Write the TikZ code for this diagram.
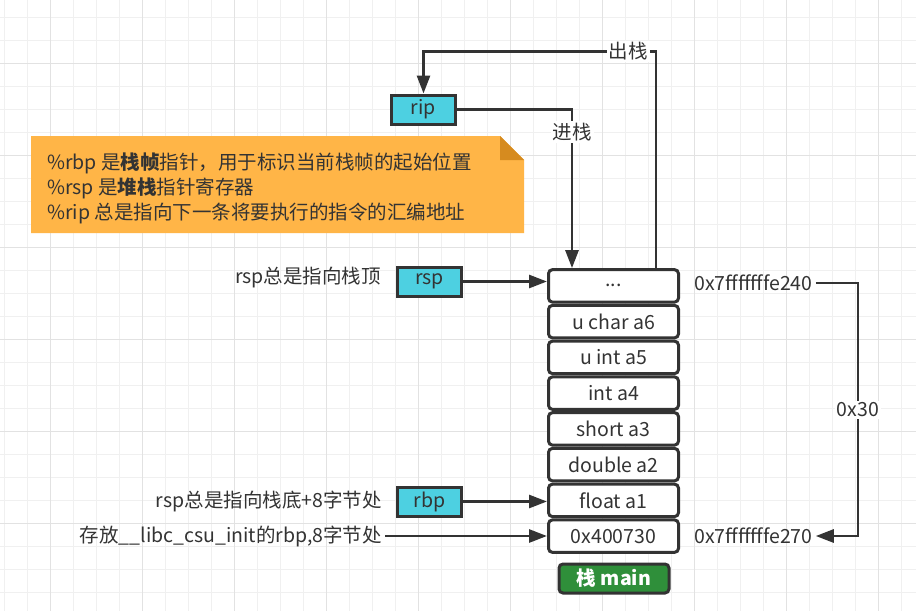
\documentclass[tikz,border=0pt]{standalone}
\usepackage{fontspec}
\setmainfont{Noto Sans CJK SC}
\usepackage{xcolor}
\usetikzlibrary{calc,arrows.meta,positioning}
\definecolor{inkc}{HTML}{333333}
\definecolor{gridc}{HTML}{F0F0F0}
\definecolor{gridm}{HTML}{E2E2E2}
\definecolor{regc}{HTML}{4DD0E1}
\definecolor{notec}{HTML}{FFB547}
\definecolor{foldc}{HTML}{D68B1F}
\definecolor{mainc}{HTML}{2F8F3A}
\newcommand{\tdots}{...}
\tikzset{
  ar/.style={-{Triangle[length=18pt,width=13pt]},line width=2.8pt,inkc},
  ln/.style={line width=2.8pt,inkc},
  cell/.style={draw=inkc,line width=3pt,rounded corners=4pt,fill=white,minimum width=130pt,minimum height=32.5pt,text=inkc},
  reg/.style={draw=inkc,line width=3pt,fill=regc,minimum width=64pt,minimum height=29pt,text=inkc},
  lbl/.style={text=inkc,inner sep=3pt},
  tag/.style={text=inkc,fill=white,inner sep=2pt}
}
\begin{document}
\begin{tikzpicture}[x=1pt,y=-1pt,font=\fontsize{19.5}{25}\selectfont]
\useasboundingbox (0,0) rectangle (916,611);
\fill[white] (0,0) rectangle (916,611);
% grid
\foreach \i in {0,...,39} \draw[gridc,line width=0.8pt] ({4.3+23*\i},0) -- ({4.3+23*\i},611);
\foreach \j in {0,...,26} \draw[gridc,line width=0.8pt] (0,{17.3+23*\j}) -- (916,{17.3+23*\j});
\foreach \i in {0,...,9} \draw[gridm,line width=0.8pt] ({50.3+92*\i},0) -- ({50.3+92*\i},611);
\foreach \j in {0,...,5} \draw[gridm,line width=0.8pt] (0,{63.3+92*\j}) -- (916,{63.3+92*\j});

% note
\fill[notec] (31,136) -- (500,136) -- (524,160) -- (524,233) -- (31,233) -- cycle;
\fill[foldc] (500,136) -- (500,160) -- (524,160) -- cycle;
\node[lbl,anchor=west,align=left] (note) at (44,188)
  {\%rbp 是\textbf{栈帧}指针，用于标识当前栈帧的起始位置\\
   \%rsp 是\textbf{堆栈}指针寄存器\\
   \%rip 总是指向下一条将要执行的指令的汇编地址};

% stack
\foreach \t [count=\i from 0] in {\tdots,u char a6,u int a5,int a4,short a3,double a2,float a1,0x400730}
  \node[cell] (s\i) at (613.5,{268+35.75*(\i+0.5)}) {\t};
\node[draw=inkc,line width=3pt,rounded corners=4pt,fill=mainc,text=white,minimum width=110pt,minimum height=29pt,font=\fontsize{19.5}{25}\selectfont\bfseries] (main) at (614,578.5) {栈 main};

% registers
\node[reg] (rip) at (423.5,109.5) {rip};
\node[reg] (rsp) at (429.5,281.5) {rsp};
\node[reg] (rbp) at (429.5,501.5) {rbp};

\node[lbl,anchor=east] (rsptxt) at (384,278) {rsp总是指向栈顶};
\node[lbl,anchor=east] (rbptxt) at (385,501) {rsp总是指向栈底+8字节处};
\node[lbl,anchor=east] (libc) at (385,536) {存放\_\_libc\_csu\_init的rbp,8字节处};

\node[lbl,anchor=west] (atop) at (691,283) {0x7fffffffe240};
\node[lbl,anchor=west] (abot) at (691,536) {0x7fffffffe270};
\node[tag] (off) at (858,410) {0x30};

% arrows
\draw[ar] (rip.east) -| node[tag,pos=0.57] (push) {进栈} ([xshift=-41.5pt]s0.north);
\draw[ar] ([xshift=42.5pt]s0.north) |- node[tag,pos=0.56] (pop) {出栈} ([yshift=42pt]rip.north) -- (rip.north);
\draw[ar] (rsp.east) -- (rsp.east -| s0.west);
\draw[ar] (rbp.east) -- (rbp.east -| s6.west);
\draw[ar] (libc.east) -- (libc.east -| s7.west);
\draw[ln] (atop.east) -| (off.north);
\draw[ar] (off.south) |- (abot.east);
\end{tikzpicture}
\end{document}
